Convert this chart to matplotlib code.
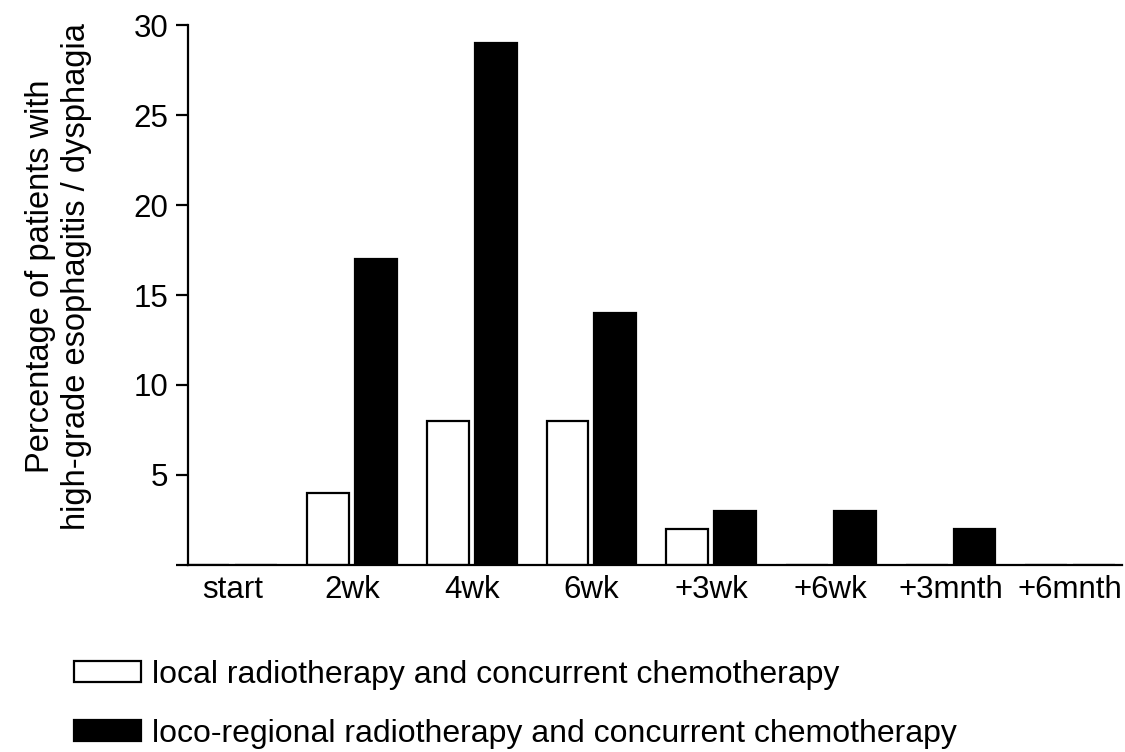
import numpy as np
import matplotlib
matplotlib.use('Agg')
import matplotlib.pyplot as plt

plt.rcParams['font.family'] = ['Liberation Sans', 'DejaVu Sans']

# данные
categories = ['start', '2wk', '4wk', '6wk', '+3wk', '+6wk', '+3mnth', '+6mnth']
local_rt = [0, 4, 8, 8, 2, 0, 0, 0]
locoregional_rt = [0, 17, 29, 14, 3, 3, 2, 0]
series_labels = ['local radiotherapy and concurrent chemotherapy',
                 'loco-regional radiotherapy and concurrent chemotherapy']
yticks = [0, 5, 10, 15, 20, 25, 30]
ytick_labels = ['', '5', '10', '15', '20', '25', '30']

fig = plt.figure(figsize=(11.25, 7.52), dpi=100)
ax = fig.add_axes([0.1671, 0.2487, 0.830, 0.718])

x = np.arange(len(categories))
w = 0.35
b1 = ax.bar(x - 0.2, local_rt, w, color='white', edgecolor='black', linewidth=1.6,
            label=series_labels[0])
b2 = ax.bar(x + 0.2, locoregional_rt, w, color='black', edgecolor='black', linewidth=1.6,
            label=series_labels[1])

ax.set_xlim(-0.37, 7.43)
ax.set_ylim(0, 30)
ax.set_yticks(yticks)
ax.set_yticklabels(ytick_labels)
ax.set_xticks(x)
ax.set_xticklabels(categories)

for s in ['top', 'right']:
    ax.spines[s].set_visible(False)
for s in ['left', 'bottom']:
    ax.spines[s].set_linewidth(1.6)

ax.tick_params(axis='y', labelsize=22.5, length=9, width=1.6, pad=5)
ax.tick_params(axis='x', labelsize=22.5, length=0, pad=7)

fig.text(0.052, 0.632, 'Percentage of patients with\nhigh-grade esophagitis / dysphagia',
         rotation=90, ha='center', va='center', fontsize=23.5, multialignment='center')

fig.legend(handles=[b1, b2], loc='upper left', bbox_to_anchor=(74 / 1125, 1 - 660 / 752),
           frameon=False, fontsize=23, handlelength=2.1, handleheight=0.62,
           handletextpad=0.33, labelspacing=0.9, borderpad=0, borderaxespad=0)

fig.savefig('out.png', dpi=100)
